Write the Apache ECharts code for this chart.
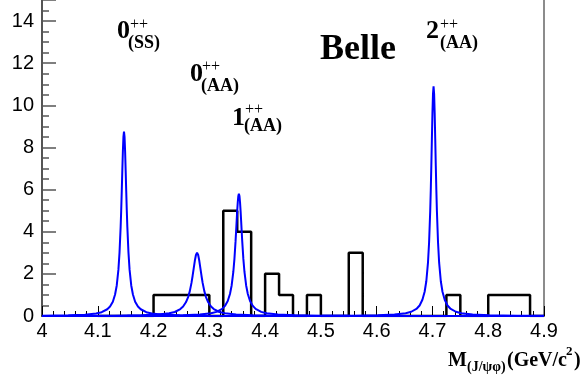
<!DOCTYPE html>
<html>
<head>
<meta charset="utf-8">
<script src="https://cdn.jsdelivr.net/npm/echarts@6/dist/echarts.min.js"></script>
<style>
  html, body { margin: 0; padding: 0; background: #fff; }
  #chart { width: 587px; height: 381px; }
</style>
</head>
<body>
<div id="chart"></div>
<script>
// histogram: left edge of each 0.025 GeV bin and its count
const binEdges = [4.100, 4.125, 4.150, 4.175, 4.200, 4.225, 4.250, 4.275,
                  4.300, 4.325, 4.350, 4.375, 4.400, 4.425, 4.450, 4.475,
                  4.500, 4.525, 4.550, 4.575, 4.600, 4.625, 4.650, 4.675,
                  4.700, 4.725, 4.750, 4.775, 4.800, 4.825, 4.850, 4.875];
const binCounts = [0, 0, 0, 0, 1, 1, 1, 1,
                   0, 5, 4, 0, 2, 1, 0, 1,
                   0, 0, 3, 0, 0, 0, 0, 0,
                   0, 1, 0, 0, 1, 1, 1, 0];
const histEnd = 4.9;

// blue resonance curves
const ssX = [4.000, 4.047, 4.077, 4.097, 4.107, 4.117, 4.122, 4.127, 4.131, 4.134,
             4.137, 4.139, 4.141, 4.142, 4.143, 4.144, 4.145, 4.146, 4.147, 4.148,
             4.149, 4.150, 4.151, 4.152, 4.153, 4.155, 4.157, 4.160, 4.163, 4.167,
             4.172, 4.177, 4.187, 4.197, 4.217, 4.247, 4.297, 4.400, 4.600, 4.900];
const ssY = [0.014, 0.03, 0.06, 0.12, 0.18, 0.32, 0.45, 0.68, 1.02, 1.45,
             2.20, 3.02, 4.23, 5.02, 5.93, 6.90, 7.82, 8.50, 8.75, 8.50,
             7.82, 6.90, 5.93, 5.02, 4.23, 3.02, 2.20, 1.45, 1.02, 0.68,
             0.45, 0.32, 0.18, 0.12, 0.06, 0.03, 0.013, 0.005, 0.001, 0.0005];

const aa0X = [4.000, 4.078, 4.128, 4.178, 4.208, 4.228, 4.238, 4.248, 4.253, 4.258,
              4.262, 4.265, 4.268, 4.270, 4.272, 4.274, 4.276, 4.278, 4.280, 4.282,
              4.284, 4.286, 4.288, 4.291, 4.294, 4.298, 4.303, 4.308, 4.318, 4.328,
              4.348, 4.378, 4.428, 4.478, 4.678, 4.900];
const aa0Y = [0.004, 0.008, 0.015, 0.033, 0.066, 0.127, 0.19, 0.33, 0.45, 0.65,
              0.90, 1.18, 1.57, 1.90, 2.26, 2.62, 2.895, 3.0, 2.895, 2.62,
              2.26, 1.90, 1.57, 1.18, 0.90, 0.65, 0.45, 0.33, 0.19, 0.127,
              0.066, 0.033, 0.015, 0.008, 0.002, 0.001];

const aa1X = [4.000, 4.153, 4.203, 4.253, 4.283, 4.303, 4.313, 4.323, 4.328, 4.333,
              4.337, 4.340, 4.343, 4.345, 4.347, 4.348, 4.349, 4.350, 4.351, 4.352,
              4.353, 4.354, 4.355, 4.356, 4.357, 4.358, 4.359, 4.361, 4.363, 4.366,
              4.369, 4.373, 4.378, 4.383, 4.393, 4.403, 4.423, 4.453, 4.503, 4.553, 4.900];
const aa1Y = [0.003, 0.008, 0.0145, 0.032, 0.066, 0.128, 0.197, 0.34, 0.48, 0.715,
              1.045, 1.45, 2.09, 2.71, 3.54, 4.02, 4.52, 5.00, 5.41, 5.70,
              5.8, 5.70, 5.41, 5.00, 4.52, 4.02, 3.54, 2.71, 2.09, 1.45,
              1.045, 0.715, 0.48, 0.34, 0.197, 0.128, 0.066, 0.032, 0.0145, 0.008, 0.001];

const aa2X = [4.000, 4.302, 4.502, 4.552, 4.602, 4.632, 4.652, 4.662, 4.672, 4.677,
              4.682, 4.686, 4.689, 4.692, 4.694, 4.696, 4.697, 4.698, 4.699, 4.700,
              4.701, 4.702, 4.703, 4.704, 4.705, 4.706, 4.707, 4.708, 4.710, 4.712,
              4.715, 4.718, 4.722, 4.727, 4.732, 4.742, 4.752, 4.772, 4.802, 4.852, 4.900];
const aa2Y = [0.0007, 0.002, 0.0082, 0.0146, 0.033, 0.067, 0.130, 0.202, 0.354, 0.50,
              0.77, 1.15, 1.65, 2.53, 3.50, 4.98, 5.97, 7.13, 8.40, 9.63,
              10.55, 10.9, 10.55, 9.63, 8.40, 7.13, 5.97, 4.98, 3.50, 2.53,
              1.65, 1.15, 0.77, 0.50, 0.354, 0.202, 0.130, 0.067, 0.033, 0.0146, 0.0085];

// axis ranges
const xMin = 4, xMax = 4.9, xStep = 0.1;
const yMin = 0, yMax = 15, yStep = 2;

const chart = echarts.init(document.getElementById('chart'));

const histData = binEdges.map((e, i) => [e, binCounts[i]]);
histData.push([histEnd, 0]);

const pairs = (xs, ys) => xs.map((x, i) => [x, ys[i]]);

const blueLine = (name, xs, ys) => ({
    name: name,
    type: 'line',
    data: pairs(xs, ys),
    symbol: 'none',
    z: 3,
    lineStyle: { color: '#0000ff', width: 2 },
    silent: true
});

const serif = '"Liberation Serif", "Times New Roman", serif';
const label = (x, y, txt, font) => ({
    type: 'text',
    x: x,
    y: y,
    style: { text: txt, font: font, fill: '#000', textAlign: 'left', textVerticalAlign: 'middle' }
});
const digitFont = 'bold 26px ' + serif;
const supFont = '16px ' + serif;
const subFont = 'bold 18px ' + serif;

const option = {
    animation: false,
    grid: { left: 42, right: 43, top: -2, bottom: 65 },
    xAxis: {
        type: 'value',
        min: xMin,
        max: xMax,
        interval: xStep,
        splitLine: { show: false },
        axisLine: { onZero: false, lineStyle: { color: '#000', width: 1.5 } },
        axisTick: { inside: true, length: 10, lineStyle: { color: '#000', width: 1 } },
        minorTick: { show: true, splitNumber: 5, length: 5, lineStyle: { color: '#000', width: 1 } },
        axisLabel: {
            color: '#000',
            fontSize: 20,
            fontFamily: 'Liberation Sans',
            margin: 5,
            formatter: v => String(parseFloat(v.toFixed(1)))
        }
    },
    yAxis: [{
        type: 'value',
        min: yMin,
        max: yMax,
        interval: yStep,
        splitLine: { show: false },
        axisLine: { show: true, lineStyle: { color: '#555', width: 2 } },
        axisTick: { inside: true, length: 14, lineStyle: { color: '#555', width: 1.5 } },
        minorTick: { show: true, splitNumber: 4, length: 7, lineStyle: { color: '#555', width: 1.5 } },
        axisLabel: {
            color: '#000',
            fontSize: 20,
            fontFamily: 'Liberation Sans',
            margin: 8,
            showMaxLabel: false
        }
    }, {
        type: 'value',
        position: 'right',
        min: yMin,
        max: yMax,
        splitLine: { show: false },
        axisLine: { show: true, lineStyle: { color: '#666', width: 1.5 } },
        axisTick: { show: false },
        axisLabel: { show: false }
    }],
    series: [
        {
            name: 'data',
            type: 'line',
            step: 'end',
            data: histData,
            symbol: 'none',
            z: 2,
            lineStyle: { color: '#000', width: 2.5 },
            silent: true
        },
        blueLine('0++ (SS)', ssX, ssY),
        blueLine('0++ (AA)', aa0X, aa0Y),
        blueLine('1++ (AA)', aa1X, aa1Y),
        blueLine('2++ (AA)', aa2X, aa2Y)
    ],
    graphic: [
        label(117, 31, '0', digitFont),
        label(130, 25, '++', supFont),
        label(128, 43, '(SS)', subFont),

        label(190, 74, '0', digitFont),
        label(202, 67, '++', supFont),
        label(201, 86, '(AA)', subFont),

        label(232, 118, '1', digitFont),
        label(245, 110, '++', supFont),
        label(244, 126, '(AA)', subFont),

        label(320, 50, 'Belle', 'bold 36px ' + serif),

        label(426, 31, '2', digitFont),
        label(440, 25, '++', supFont),
        label(440, 43, '(AA)', subFont),

        label(448, 361, 'M', 'bold 20px ' + serif),
        label(467, 367, '(J/ψφ)', 'bold 14px ' + serif),
        label(507, 361, '(GeV/c', 'bold 20px ' + serif),
        label(566, 352, '2', 'bold 13px ' + serif),
        label(574, 361, ')', 'bold 20px ' + serif)
    ]
};

chart.setOption(option);
</script>
</body>
</html>
